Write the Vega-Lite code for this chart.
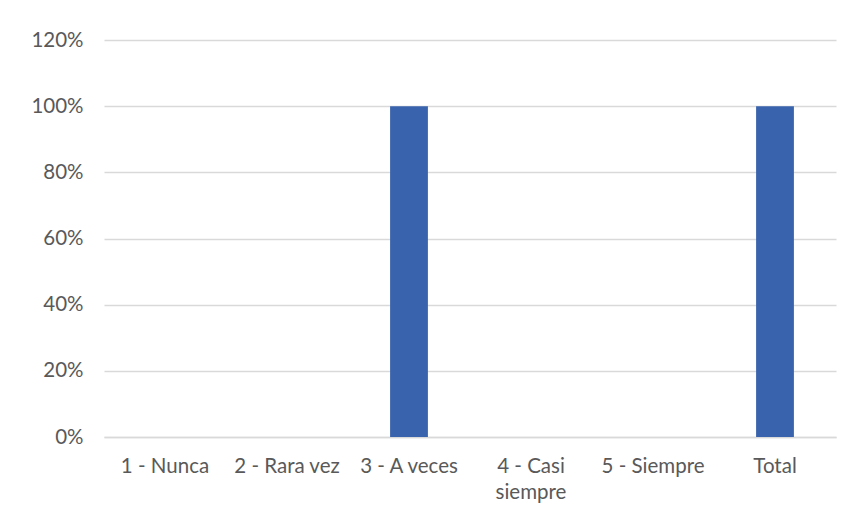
{
  "$schema": "https://vega.github.io/schema/vega-lite/v6.json",
  "autosize": {"type": "none"},
  "width": 732,
  "height": 397,
  "padding": {"left": 104, "top": 40, "right": 20, "bottom": 83},
  "background": "white",
  "data": {
    "values": [
      {"respuesta": "1 - Nunca", "porcentaje": 0},
      {"respuesta": "2 - Rara vez", "porcentaje": 0},
      {"respuesta": "3 - A veces", "porcentaje": 1},
      {"respuesta": "4 - Casi siempre", "porcentaje": 0},
      {"respuesta": "5 - Siempre", "porcentaje": 0},
      {"respuesta": "Total", "porcentaje": 1}
    ]
  },
  "mark": {"type": "bar", "color": "#3a63ad"},
  "encoding": {
    "x": {
      "field": "respuesta",
      "type": "nominal",
      "sort": null,
      "title": null,
      "scale": {"paddingInner": 0.69, "paddingOuter": 0.345},
      "axis": {
        "labelAngle": 0,
        "ticks": false,
        "domain": true,
        "domainColor": "#d9d9d9",
        "domainWidth": 1.5,
        "labelPadding": 19,
        "labelLineHeight": 26,
        "labelExpr": "datum.label == '4 - Casi siempre' ? ['4 - Casi', 'siempre'] : datum.label"
      }
    },
    "y": {
      "field": "porcentaje",
      "type": "quantitative",
      "title": null,
      "scale": {"domain": [0, 1.2], "nice": false},
      "axis": {
        "values": [0, 0.2, 0.4, 0.6, 0.8, 1.0, 1.2],
        "format": ".0%",
        "ticks": false,
        "domain": false,
        "labelPadding": 21,
        "gridColor": "#d9d9d9",
        "gridWidth": 1.5
      }
    }
  },
  "config": {
    "view": {"stroke": null},
    "axis": {
      "labelFont": "Lato",
      "labelFontSize": 20.5,
      "labelColor": "#595959"
    }
  }
}
